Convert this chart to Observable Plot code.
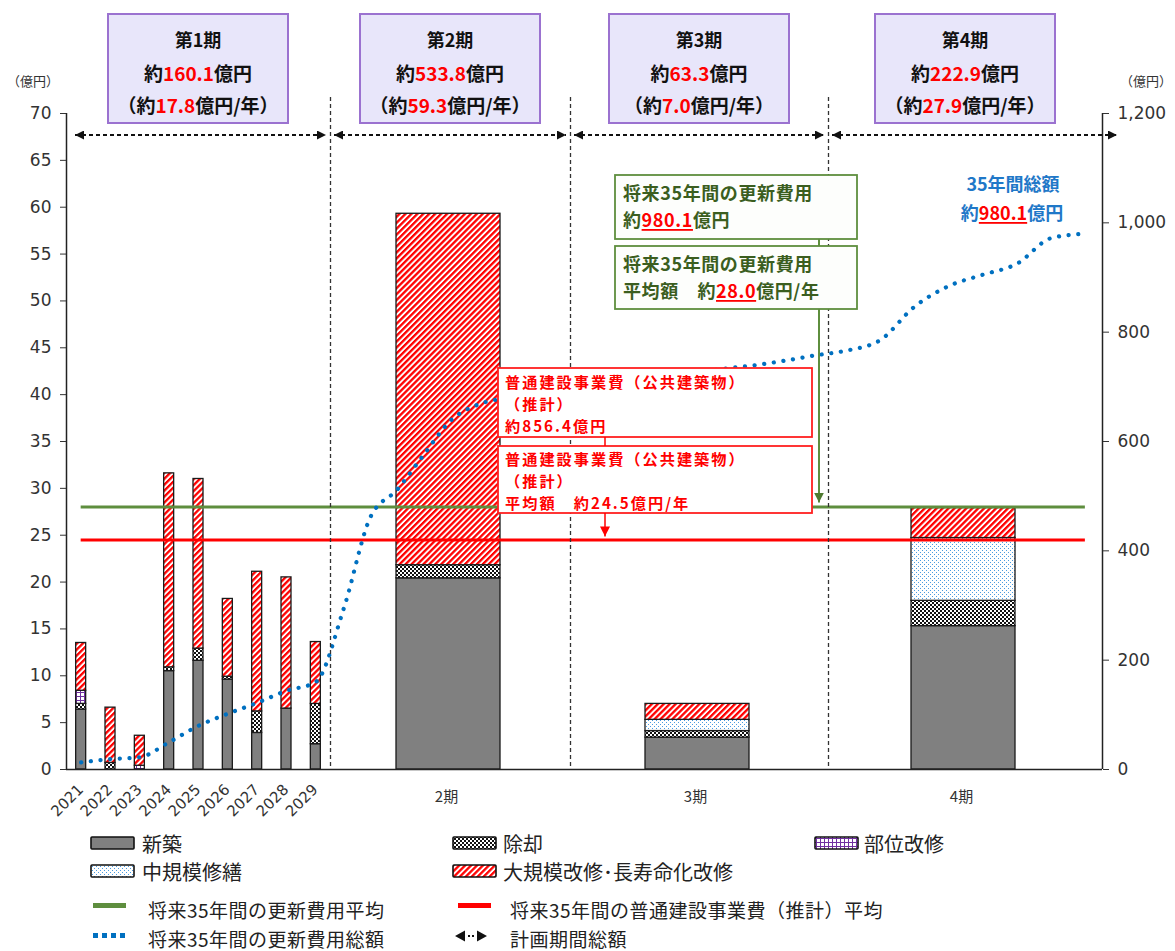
<!DOCTYPE html>
<html><head><meta charset="utf-8">
<script src="https://cdn.jsdelivr.net/npm/d3@7"></script>
<script src="https://cdn.jsdelivr.net/npm/@observablehq/plot@0.6"></script>
<style>
body{margin:0;background:#fff;}
#wrap{position:relative;width:1175px;height:951px;overflow:hidden;background:#fff;}
#chart{position:absolute;left:0;top:0;}
#legend{position:absolute;left:0;top:830px;}
</style></head>
<body>
<div id="wrap">
<svg width="0" height="0" style="position:absolute;left:0;top:0">
 <defs>
  <pattern id="pHatch" width="4.2" height="4.2" patternUnits="userSpaceOnUse" patternTransform="rotate(45)">
   <rect width="4.2" height="4.2" fill="#fff"/><rect width="2.3" height="4.2" fill="#ff0000"/>
  </pattern>
  <pattern id="pChecker" width="4" height="4" patternUnits="userSpaceOnUse">
   <rect width="4" height="4" fill="#111"/><rect x="0" y="0" width="2" height="2" fill="#fff"/><rect x="2" y="2" width="2" height="2" fill="#fff"/>
  </pattern>
  <pattern id="pGrid" width="4" height="4" patternUnits="userSpaceOnUse">
   <rect width="4" height="4" fill="#fff"/><rect width="4" height="1" fill="#7030a0"/><rect width="1" height="4" fill="#7030a0"/>
  </pattern>
  <pattern id="pDots" width="4" height="4" patternUnits="userSpaceOnUse">
   <rect width="4" height="4" fill="#fff"/><rect x="0" y="0" width="1" height="1" fill="#4a9be0"/><rect x="2" y="2" width="1" height="1" fill="#4a9be0"/>
  </pattern>
  <marker id="mArrow" viewBox="0 0 10 10" refX="10" refY="5" markerUnits="userSpaceOnUse" markerWidth="10" markerHeight="9" orient="auto-start-reverse">
   <path d="M0,0 L10,5 L0,10 z" fill="#111"/>
  </marker>
  <marker id="mGreen" viewBox="0 0 10 10" refX="10" refY="5" markerUnits="userSpaceOnUse" markerWidth="10" markerHeight="10" orient="auto">
   <path d="M0,0 L10,5 L0,10 z" fill="#4e7a30"/>
  </marker>
  <marker id="mRed" viewBox="0 0 10 10" refX="10" refY="5" markerUnits="userSpaceOnUse" markerWidth="10" markerHeight="10" orient="auto">
   <path d="M0,0 L10,5 L0,10 z" fill="#ff0000"/>
  </marker>
 </defs>
</svg>
<div id="chart"></div>
<div id="legend"></div>
</div>
<script>
// ================= DATA =================
const years = ["2021","2022","2023","2024","2025","2026","2027","2028","2029"];
const shinchiku = [6.4, 0, 0, 10.5, 11.6, 9.6, 3.9, 6.5, 2.7];   // 新築
const jokyaku   = [0.6, 0.7, 0, 0.4, 1.3, 0.3, 2.3, 0, 4.3];     // 除却
const buiKaishu = [1.4, 0, 0.4, 0, 0, 0, 0, 0, 0];               // 部位改修
const chukibo   = [0, 0, 0, 0, 0, 0, 0, 0, 0];                   // 中規模修繕
const daikibo   = [5.1, 5.9, 3.2, 20.7, 18.1, 8.3, 14.9, 14.0, 6.6]; // 大規模改修･長寿命化改修

const periodBarLabels = ["2期", "3期", "4期"];
const pShinchiku = [20.4, 3.4, 15.3];
const pJokyaku   = [1.4, 0.7, 2.7];
const pBui       = [0, 0, 0];
const pChukibo   = [0, 1.2, 6.7];
const pDaikibo   = [37.5, 1.7, 3.2];

const periodNames  = ["第1期", "第2期", "第3期", "第4期"];
const periodTotals = ["160.1", "533.8", "63.3", "222.9"];
const periodAnnual = ["17.8", "59.3", "7.0", "27.9"];
const periodYears  = [9, 9, 9, 8];

// 将来35年間の更新費用総額 (cumulative, right axis, 億円)
const cumulativeTotal = [
  13, 19, 22.5, 50, 80, 102, 122, 144, 160.1,
  295, 462, 512, 576, 638, 667, 679, 687, 693.9,
  699, 706, 713, 720, 727, 734, 740, 748, 757.2,
  766, 785, 846, 884, 905, 925, 972, 980.1
];
const renewalAvg = 28.0;       // 将来35年間の更新費用平均
const constructionAvg = 24.5;  // 普通建設事業費（推計）平均
const renewalTotal = "980.1";
const constructionTotal = "856.4";

const leftTicks  = [0, 5, 10, 15, 20, 25, 30, 35, 40, 45, 50, 55, 60, 65, 70];
const rightTicks = [0, 200, 400, 600, 800, 1000, 1200];
const leftMax = 70, rightMax = 1200;

const seriesNames = ["新築", "除却", "部位改修", "中規模修繕", "大規模改修･長寿命化改修"];
const lineNames = ["将来35年間の更新費用平均", "将来35年間の普通建設事業費（推計）平均", "将来35年間の更新費用総額", "計画期間総額"];

// ================= BUILD =================
const fills = ["#808080", "url(#pChecker)", "url(#pGrid)", "url(#pDots)", "url(#pHatch)"];
const bounds = [0];
periodYears.forEach(n => bounds.push(bounds[bounds.length - 1] + n));
const totalYears = bounds[bounds.length - 1];

function stackRows(count, xOf, layerArr) {
  const rows = [];
  for (let i = 0; i < count; i++) {
    let base = 0;
    layerArr.forEach((arr, s) => {
      const v = arr[i];
      if (v > 0) { rows.push({x: xOf(i), y1: base, y2: base + v, fill: fills[s]}); base += v; }
    });
  }
  return rows;
}
const yearSegs = stackRows(years.length, i => i + 0.5, [shinchiku, jokyaku, buiKaishu, chukibo, daikibo]);
const periodSegs = stackRows(periodBarLabels.length, k => (bounds[k + 1] + bounds[k + 2]) / 2, [pShinchiku, pJokyaku, pBui, pChukibo, pDaikibo]);
const cumRows = cumulativeTotal.map((v, i) => ({x: i + 0.5, y: v * leftMax / rightMax}));
const yearLabelRows = years.map((t, i) => ({x: i + 0.5, t}));
const periodLabelRows = periodBarLabels.map((t, k) => ({x: (bounds[k + 1] + bounds[k + 2]) / 2, t}));

const plot = Plot.plot({
  width: 1175, height: 830,
  marginTop: 113, marginBottom: 61, marginLeft: 66, marginRight: 73,
  style: {fontFamily: "'DejaVu Sans', sans-serif", fontSize: "17px", color: "#333", background: "white", overflow: "visible"},
  x: {type: "linear", domain: bounds, range: [66, 330, 570, 828, 1102], axis: null},
  y: {domain: [0, leftMax], axis: null},
  color: {type: "identity"},
  marks: [
    Plot.rect(yearSegs, {x1: "x", x2: "x", y1: "y1", y2: "y2", fill: "fill", stroke: "#1a1a1a", strokeWidth: 1.3, insetLeft: -5, insetRight: -5}),
    Plot.rect(periodSegs, {x1: "x", x2: "x", y1: "y1", y2: "y2", fill: "fill", stroke: "#1a1a1a", strokeWidth: 1.3, insetLeft: -54, insetRight: -50}),
    Plot.ruleY([renewalAvg], {x1: 0.5, x2: totalYears - 0.5, stroke: "#5e8e3e", strokeWidth: 3}),
    Plot.ruleY([constructionAvg], {x1: 0.5, x2: totalYears - 0.5, stroke: "#ff0000", strokeWidth: 3}),
    Plot.line(cumRows, {x: "x", y: "y", stroke: "#0070c0", strokeWidth: 4.2, strokeDasharray: "0.1 9.6", strokeLinecap: "round", curve: "monotone-x"}),
    Plot.ruleX(bounds.slice(1, -1), {stroke: "#333", strokeWidth: 1.3, strokeDasharray: "4 3", insetTop: -16}),
    Plot.ruleY([0], {stroke: "#222", strokeWidth: 1.5}),
    Plot.ruleX([0, totalYears], {stroke: "#222", strokeWidth: 1.5}),
    Plot.axisY({ticks: leftTicks, anchor: "left", tickSize: 6, tickPadding: 9, label: null, fontSize: 17}),
    Plot.axisY({ticks: rightTicks.map(v => v * leftMax / rightMax), anchor: "right", tickSize: 6, tickPadding: 9, label: null, fontSize: 17,
      tickFormat: d => d3.format(",")(Math.round(d * rightMax / leftMax))}),
    Plot.text(yearLabelRows, {x: "x", text: "t", frameAnchor: "bottom", rotate: -45, textAnchor: "end", dy: 21, dx: 3, fontSize: 15, fill: "#333"}),
    Plot.text(periodLabelRows, {x: "x", text: "t", frameAnchor: "bottom", dy: 32, dx: -4, fontSize: 15, fill: "#333", fontFamily: "'Noto Sans CJK JP', sans-serif"})
  ]
});
document.getElementById("chart").appendChild(plot);

// ================= ANNOTATIONS =================
const X = plot.scale("x"), Y = plot.scale("y");
const svg = d3.select(plot);
const ann = svg.append("g").attr("font-family", "'Noto Sans CJK JP', sans-serif");

function richText(g, x, y, parts, opts) {
  const t = g.append("text").attr("x", x).attr("y", y)
    .attr("text-anchor", opts.anchor || "start").attr("dominant-baseline", "central")
    .attr("font-size", opts.size).attr("font-weight", "bold").attr("fill", opts.fill);
  if (opts.ls) t.attr("letter-spacing", opts.ls);
  parts.forEach(p => {
    const ts = t.append("tspan").text(p.t);
    if (p.fill) ts.attr("fill", p.fill);
    if (p.u) ts.style("text-decoration", "underline");
  });
  return t;
}
// one text element holding several lines (each line: [x, y, text])
function multiLine(g, lines, opts) {
  const t = g.append("text").attr("font-size", opts.size).attr("font-weight", "bold").attr("fill", opts.fill)
    .attr("text-anchor", "start").attr("letter-spacing", opts.ls || 0);
  lines.forEach(([x, y, s]) => t.append("tspan").attr("x", x).attr("y", y).attr("dominant-baseline", "central").text(s));
  return t;
}

// axis unit labels
ann.append("text").attr("x", 33).attr("y", 80).attr("text-anchor", "middle").attr("dominant-baseline", "central").attr("font-size", 13).attr("fill", "#333").text("（億円）");
ann.append("text").attr("x", 1146).attr("y", 80).attr("text-anchor", "middle").attr("dominant-baseline", "central").attr("font-size", 13).attr("fill", "#333").text("（億円）");

// period boxes and span arrows
periodNames.forEach((name, k) => {
  const cx = X.apply((bounds[k] + bounds[k + 1]) / 2);
  ann.append("rect").attr("x", cx - 90).attr("y", 14).attr("width", 180).attr("height", 109)
    .attr("fill", "#e8e6fa").attr("stroke", "#9b72d0").attr("stroke-width", 2);
  richText(ann, cx, 39, [{t: name}], {anchor: "middle", size: 18, fill: "#111"});
  richText(ann, cx, 72, [{t: "約"}, {t: periodTotals[k], fill: "#ff0000"}, {t: "億円"}], {anchor: "middle", size: 19, fill: "#111"});
  richText(ann, cx, 104, [{t: "（約"}, {t: periodAnnual[k], fill: "#ff0000"}, {t: "億円/年）"}], {anchor: "middle", size: 19, fill: "#111"});
  const xs = k === 0 ? X.apply(bounds[0]) + 9 : X.apply(bounds[k]) + 4;
  const xe = k === periodNames.length - 1 ? X.apply(bounds[k + 1]) + 15 : X.apply(bounds[k + 1]) - 4;
  ann.append("path").attr("d", `M${xs},135H${xe}`).attr("stroke", "#111").attr("stroke-width", 2)
    .attr("stroke-dasharray", "4 3").attr("fill", "none")
    .attr("marker-start", "url(#mArrow)").attr("marker-end", "url(#mArrow)");
});

// green callouts (renewal cost)
const green = "#5e8e3e", greenText = "#3b5e1f";
ann.append("rect").attr("x", 615).attr("y", 175).attr("width", 242).attr("height", 64).attr("fill", "#fdfefc").attr("stroke", green).attr("stroke-width", 1.8);
richText(ann, 623, 192, [{t: "将来35年間の更新費用"}], {size: 18, fill: greenText, ls: 0.6});
richText(ann, 623, 219, [{t: "約"}, {t: renewalTotal, fill: "#ff0000", u: true}, {t: "億円"}], {size: 18, fill: greenText, ls: 0.6});
ann.append("rect").attr("x", 615).attr("y", 246).attr("width", 242).attr("height", 63).attr("fill", "#fdfefc").attr("stroke", green).attr("stroke-width", 1.8);
richText(ann, 623, 263, [{t: "将来35年間の更新費用"}], {size: 18, fill: greenText, ls: 0.6});
richText(ann, 623, 290, [{t: "平均額　約"}, {t: renewalAvg.toFixed(1), fill: "#ff0000", u: true}, {t: "億円/年"}], {size: 18, fill: greenText, ls: 0.6});
ann.append("line").attr("x1", 819).attr("x2", 819).attr("y1", 239).attr("y2", 246).attr("stroke", green).attr("stroke-width", 2);
ann.append("line").attr("x1", 819).attr("x2", 819).attr("y1", 309).attr("y2", Y.apply(renewalAvg) - 4)
  .attr("stroke", green).attr("stroke-width", 2).attr("marker-end", "url(#mGreen)");

// red callouts (construction cost)
ann.append("rect").attr("x", 498).attr("y", 368).attr("width", 314).attr("height", 69).attr("fill", "#fff").attr("stroke", "#ff2020").attr("stroke-width", 1.8);
multiLine(ann, [
  [505, 380.5, "普通建設事業費（公共建築物）"],
  [505, 402.5, "（推計）"],
  [505, 424.5, "約" + constructionTotal + "億円"]
], {size: 15.2, fill: "#ff0000", ls: 2});
ann.append("rect").attr("x", 498).attr("y", 446).attr("width", 314).attr("height", 67).attr("fill", "#fff").attr("stroke", "#ff2020").attr("stroke-width", 1.8);
multiLine(ann, [
  [505, 457.5, "普通建設事業費（公共建築物）"],
  [505, 479.5, "（推計）"],
  [505, 501.5, "平均額　約" + constructionAvg.toFixed(1) + "億円/年"]
], {size: 15.2, fill: "#ff0000", ls: 2});
ann.append("line").attr("x1", 605).attr("x2", 605).attr("y1", 437).attr("y2", 446).attr("stroke", "#ff0000").attr("stroke-width", 1.5);
ann.append("line").attr("x1", 605).attr("x2", 605).attr("y1", 513).attr("y2", Y.apply(constructionAvg) - 3)
  .attr("stroke", "#ff0000").attr("stroke-width", 1.5).attr("marker-end", "url(#mRed)");

// blue total label
richText(ann, 1013, 183, [{t: "35年間総額"}], {anchor: "middle", size: 18, fill: "#1f78c8"});
richText(ann, 1012, 212, [{t: "約"}, {t: renewalTotal, fill: "#ff0000", u: true}, {t: "億円"}], {anchor: "middle", size: 18, fill: "#1f78c8"});

// ================= LEGEND =================
const lg = d3.select("#legend").append("svg").attr("width", 1175).attr("height", 121)
  .attr("font-family", "'Noto Sans CJK JP', sans-serif");
const swatchPos = [[91, 7], [453, 7], [815, 7], [91, 35], [453, 35]];
const textPos = [[142, 13], [503, 13], [864, 13], [142, 41], [503, 41]];
seriesNames.forEach((name, s) => {
  lg.append("rect").attr("x", swatchPos[s][0]).attr("y", swatchPos[s][1]).attr("width", 43).attr("height", 12)
    .attr("fill", fills[s]).attr("stroke", "#111").attr("stroke-width", 1.6).attr("rx", 1);
  lg.append("text").attr("x", textPos[s][0]).attr("y", textPos[s][1]).attr("dominant-baseline", "central")
    .attr("font-size", 20).attr("fill", "#222").text(name);
});
// line legend
lg.append("rect").attr("x", 93).attr("y", 73).attr("width", 33).attr("height", 5).attr("fill", green);
lg.append("text").attr("x", 148).attr("y", 79).attr("dominant-baseline", "central").attr("font-size", 19).attr("letter-spacing", 0.5).attr("fill", "#222").text(lineNames[0]);
lg.append("rect").attr("x", 458).attr("y", 73).attr("width", 33).attr("height", 5).attr("fill", "#ff0000");
lg.append("text").attr("x", 510).attr("y", 79).attr("dominant-baseline", "central").attr("font-size", 19).attr("letter-spacing", 0.5).attr("fill", "#222").text(lineNames[1]);
[93, 102, 111, 120].forEach(x => lg.append("rect").attr("x", x).attr("y", 103).attr("width", 5).attr("height", 5).attr("fill", "#0070c0"));
lg.append("text").attr("x", 148).attr("y", 108).attr("dominant-baseline", "central").attr("font-size", 19).attr("letter-spacing", 0.5).attr("fill", "#222").text(lineNames[2]);
lg.append("path").attr("d", "M455,106L465,100.5L465,111.5Z M487,106L477,100.5L477,111.5Z").attr("fill", "#111");
lg.append("rect").attr("x", 468).attr("y", 105).attr("width", 2).attr("height", 2).attr("fill", "#111");
lg.append("rect").attr("x", 472).attr("y", 105).attr("width", 2).attr("height", 2).attr("fill", "#111");
lg.append("text").attr("x", 510).attr("y", 108).attr("dominant-baseline", "central").attr("font-size", 19).attr("letter-spacing", 0.5).attr("fill", "#222").text(lineNames[3]);
</script>
</body></html>
